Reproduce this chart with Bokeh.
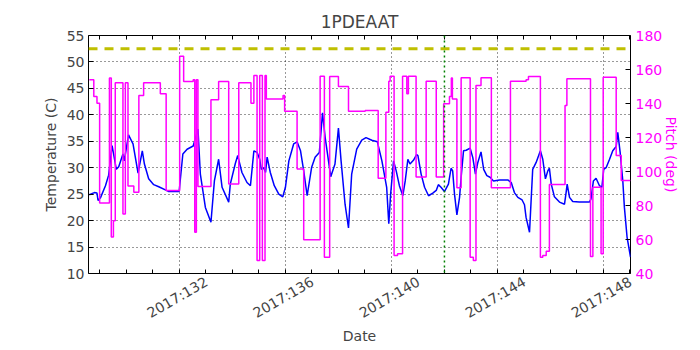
import math
from bokeh.plotting import figure
from bokeh.models import (Range1d, LinearAxis, FixedTicker, Span)
from bokeh.embed import file_html
from bokeh.resources import INLINE

# ---- data (day of year 2017) ----
temp_days = [128.60, 128.79, 128.89, 128.93, 129.02, 129.21, 129.33, 129.46, 129.62, 129.71,
             129.87, 129.92, 130.08, 130.25, 130.44, 130.60, 130.68, 130.84, 131.03, 131.22,
             131.47, 131.60, 131.99, 132.13, 132.29, 132.52, 132.70,
             132.79, 132.98, 133.19, 133.32, 133.48, 133.61, 133.86, 133.92, 134.11, 134.20,
             134.36, 134.55, 134.68, 134.81, 134.93, 135.03, 135.09, 135.18, 135.25, 135.31,
             135.43, 135.58, 135.75, 135.90, 136.00, 136.13, 136.31, 136.44, 136.57, 136.69,
             136.82, 136.99, 137.12, 137.28, 137.40, 137.50, 137.71, 137.87, 138.00, 138.10,
             138.25, 138.38, 138.50, 138.69, 138.88, 139.04, 139.26, 139.47, 139.64, 139.82,
             139.90, 139.97, 140.08, 140.18, 140.30, 140.43, 140.52, 140.62, 140.70, 140.83,
             140.95, 141.00, 141.12, 141.25, 141.40, 141.56, 141.69, 141.77, 141.87, 142.00,
             142.15, 142.25, 142.31, 142.38, 142.47, 142.57, 142.63, 142.72, 142.82, 142.97,
             143.07, 143.17, 143.26, 143.38, 143.48, 143.60, 143.72, 143.85, 144.08, 144.39,
             144.52, 144.64, 144.77, 144.93, 145.02, 145.08, 145.21, 145.33, 145.46, 145.62,
             145.71, 145.81, 145.90, 145.96, 146.03, 146.15, 146.34, 146.53, 146.59, 146.63,
             146.72, 146.84, 147.09, 147.47, 147.53, 147.62, 147.72, 147.85, 147.94, 148.01,
             148.10, 148.23, 148.35, 148.48, 148.54, 148.63, 148.73, 148.79, 148.89, 149.02]
temp_vals = [24.9, 25.3, 25.2, 23.8, 24.3, 26.6, 28.6, 34.2, 29.7, 30.2,
             32.6, 31.3, 36.2, 34.5, 29.0, 33.2, 30.7, 27.9, 26.8, 26.4,
             25.8, 25.5, 25.5, 32.6, 33.5, 34.1, 37.3,
             28.8, 22.5, 19.7, 27.5, 31.6, 26.3, 23.5, 26.9, 30.8, 32.3,
             29.1, 27.2, 26.6, 33.2, 32.9, 31.6, 29.7, 30.0, 29.1, 32.0,
             29.1, 26.6, 25.0, 24.5, 26.3, 31.3, 34.5, 34.9, 33.2, 29.4,
             24.7, 30.1, 32.0, 32.9, 40.4, 35.7, 28.3, 30.7, 37.5, 31.3,
             23.1, 18.6, 28.8, 33.5, 35.2, 35.7, 35.2, 34.9, 31.3, 26.3,
             19.4, 25.0, 31.3, 29.4, 26.6, 24.7, 27.5, 31.6, 30.7, 31.4,
             32.5, 32.3, 28.8, 26.3, 24.7, 25.2, 25.7, 26.8, 26.3, 25.5,
             26.9, 29.9, 29.4, 25.0, 21.1, 24.4, 28.2, 33.2, 33.3, 33.7,
             31.9, 28.8, 31.0, 33.0, 29.7, 28.5, 28.2, 27.5, 27.7, 27.7,
             27.2, 25.3, 24.4, 23.9, 23.0, 20.6, 17.8, 29.7, 31.0, 33.2,
             31.6, 27.9, 29.4, 29.9, 26.9, 24.5, 23.5, 23.1, 25.3, 26.9,
             24.4, 23.6, 23.5, 23.5, 24.1, 27.5, 28.0, 26.6, 26.3, 29.7,
             30.0, 31.6, 33.2, 34.0, 36.7, 32.9, 27.5, 22.5, 16.9, 13.1]

pitch_days = [128.60, 128.77, 128.89, 128.99, 129.36, 129.43, 129.51, 129.58, 129.87, 129.96,
              130.06, 130.28, 130.47, 130.65, 131.28, 131.50, 132.01, 132.16, 132.52, 132.58,
              132.64, 132.70, 133.19, 133.48, 133.86, 134.24, 134.70, 134.81, 134.93, 135.03,
              135.13, 135.23, 135.28, 135.91, 135.97, 136.44, 136.69, 137.31, 137.47, 137.67,
              138.00, 138.38, 139.01, 139.50, 139.79, 139.90, 139.95, 140.10, 140.23, 140.42,
              140.58, 140.64, 140.93, 141.31, 141.69, 141.97, 142.19, 142.26, 142.30, 142.47,
              142.63, 142.97, 143.09, 143.19, 143.38, 143.77, 144.49, 145.08, 145.17, 145.62,
              145.71, 145.84, 145.96, 146.55, 146.62, 147.51, 147.60, 147.91, 147.99, 148.48,
              148.67, 149.02]
pitch_vals = [154.0, 144.1, 140.2, 81.4, 155.0, 61.4, 71.0, 152.2, 75.0, 152.2,
              91.4, 87.8, 144.7, 152.2, 145.7, 88.8, 167.8, 152.9, 154.0, 64.3,
              154.0, 91.2, 142.2, 152.9, 92.7, 152.2, 140.2, 156.5, 47.6, 156.5,
              47.6, 156.5, 142.7, 144.7, 135.5, 101.4, 59.8, 156.1, 49.6, 155.9,
              150.0, 135.5, 135.9, 96.1, 134.9, 153.1, 156.1, 50.6, 51.6, 156.1,
              145.7, 156.1, 96.7, 153.1, 96.7, 139.8, 144.1, 155.0, 142.7, 90.4,
              155.1, 49.6, 47.6, 150.6, 155.1, 90.4, 153.1, 154.0, 155.9, 49.6,
              50.6, 53.1, 92.4, 138.8, 154.5, 50.0, 90.8, 51.6, 155.5, 109.4,
              94.7, 94.7]

limit_temp = 52.5
event_day = 142.0
x_ticks = [132, 136, 140, 144, 148]
x_minor = list(range(129, 150))
x_tick_labels = ["2017:132", "2017:136", "2017:140", "2017:144", "2017:148"]
temp_ticks = [10, 15, 20, 25, 30, 35, 40, 45, 50, 55]
pitch_ticks = [40, 60, 80, 100, 120, 140, 160, 180]

FONT = "DejaVu Sans"
MAG = "#FF00FF"
X0, X1 = 128.57, 149.02
LAST = 148.0
SHIFT = X1 - LAST  # shifts right-aligned rotated labels so they sit centred on their ticks

p = figure(width=700, height=350, output_backend="svg", toolbar_location=None,
           x_range=Range1d(X0, X1), y_range=Range1d(10, 55),
           min_border_left=88, min_border_right=70, min_border_top=35, min_border_bottom=77,
           title="1PDEAAT")
p.title.align = "center"
p.title.text_font = FONT
p.title.text_font_size = "17px"
p.title.text_font_style = "normal"
p.title.standoff = 8
p.outline_line_color = "black"
p.outline_line_alpha = 1.0
p.background_fill_color = "white"
p.border_fill_color = "white"

p.extra_y_ranges = {"pitch": Range1d(40, 180)}
p.extra_x_ranges = {"lab": Range1d(X0 - SHIFT, LAST)}

# x axis: tick marks only (daily)
xa = p.xaxis[0]
xa.ticker = FixedTicker(ticks=[], minor_ticks=x_minor)
xa.minor_tick_in = 4
xa.minor_tick_out = 0
xa.major_tick_in = 0
xa.major_tick_out = 0
xa.axis_line_color = None

# top tick marks
ta = LinearAxis(ticker=FixedTicker(ticks=[], minor_ticks=x_minor))
ta.minor_tick_in = 4
ta.minor_tick_out = 0
ta.major_tick_in = 0
ta.major_tick_out = 0
ta.axis_line_color = None
p.add_layout(ta, "above")

p.xgrid[0].ticker = FixedTicker(ticks=x_ticks)

# x axis: rotated date labels
la = LinearAxis(x_range_name="lab", ticker=FixedTicker(ticks=x_ticks))
la.major_label_overrides = {t: s for t, s in zip(x_ticks, x_tick_labels)}
la.major_label_orientation = math.pi / 6
la.major_label_text_font = FONT
la.major_label_text_font_size = "14px"
la.major_label_standoff = 7
la.major_tick_line_color = None
la.minor_tick_line_color = None
la.major_tick_in = 0
la.major_tick_out = 0
la.axis_line_color = None
la.axis_label = "Date"
la.axis_label_text_font = FONT
la.axis_label_text_font_size = "14px"
la.axis_label_text_font_style = "normal"
la.axis_label_standoff = -3
p.add_layout(la, "below")

ya = p.yaxis[0]
ya.ticker = FixedTicker(ticks=temp_ticks)
ya.axis_label = "Temperature (C)"
ya.axis_label_text_font = FONT
ya.axis_label_text_font_size = "14px"
ya.axis_label_text_font_style = "normal"
ya.major_label_text_font = FONT
ya.major_label_text_font_size = "14px"
ya.major_label_standoff = 4
ya.major_tick_in = 5
ya.major_tick_out = 0
ya.minor_tick_line_color = None
ya.axis_line_color = None

ra = LinearAxis(y_range_name="pitch", ticker=FixedTicker(ticks=pitch_ticks))
ra.axis_label = "Pitch (deg)"
ra.axis_label_text_font = FONT
ra.axis_label_text_font_size = "14px"
ra.axis_label_text_font_style = "normal"
ra.axis_label_text_color = MAG
ra.axis_label_standoff = -2
ra.major_label_text_font = FONT
ra.major_label_text_font_size = "14px"
ra.major_label_text_color = MAG
ra.major_label_standoff = 5
ra.major_tick_in = 5
ra.major_tick_out = 0
ra.minor_tick_line_color = None
ra.axis_line_color = None
p.add_layout(ra, "right")

for g in (p.xgrid[0], p.ygrid[0]):
    g.grid_line_color = "black"
    g.grid_line_alpha = 0.8
    g.grid_line_dash = "1 3"
    g.grid_line_width = 1

p.add_layout(Span(location=limit_temp, dimension="width", line_color="#BFBF00",
                  line_width=3, line_dash="9 7"))
p.add_layout(Span(location=event_day, dimension="height", line_color="green",
                  line_width=1.5, line_dash="2 3"))

p.line(temp_days, temp_vals, line_color="blue", line_width=1.5)
p.step(pitch_days, pitch_vals, mode="after", line_color=MAG, line_width=1.5,
       y_range_name="pitch")

open("out.html", "w").write(file_html(p, INLINE))
